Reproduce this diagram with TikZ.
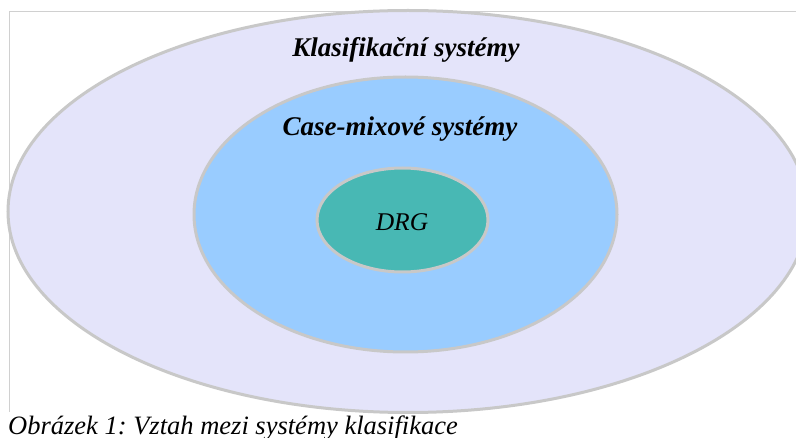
\documentclass[tikz,border=0pt]{standalone}
\usepackage{fontspec}
\setmainfont{Liberation Serif}
\usetikzlibrary{shapes.geometric}
\definecolor{outerfill}{RGB}{228,228,250}
\definecolor{midfill}{RGB}{153,204,255}
\definecolor{innerfill}{RGB}{72,184,180}
\definecolor{ringgray}{RGB}{200,200,200}
\definecolor{framegray}{RGB}{208,208,208}
\frenchspacing
\begin{document}
\begin{tikzpicture}[x=1pt,y=-1pt,
  ring/.style={ellipse, draw=ringgray, line width=3pt, inner sep=0pt, outer sep=0pt},
  biglbl/.style={anchor=base, inner sep=0pt, font=\fontsize{27}{31}\selectfont\bfseries\itshape},
  drglbl/.style={anchor=base, inner sep=0pt, font=\fontsize{25.5}{30}\selectfont\itshape},
  caption/.style={anchor=base west, inner sep=0pt, font=\fontsize{26.5}{30}\selectfont\itshape}]
\useasboundingbox (0,0) rectangle (796,438);
\clip (0,0) rectangle (796,438);
\fill[white] (0,0) rectangle (796,438);
\coordinate (fbl) at (9,412);
\coordinate (ftl) at (9,12);
\coordinate (ftr) at (796,12);
\draw[framegray, line width=1pt] (fbl) -- (ftl) -- (ftr);
\node[ring, fill=outerfill, minimum width=800pt, minimum height=402pt] (outer) at (408,211.5) {};
\node[ring, fill=midfill, minimum width=423pt, minimum height=275pt] (middle) at (405.5,214.5) {};
\node[ring, fill=innerfill, minimum width=171pt, minimum height=104pt] (inner) at (402.5,220) {};
\node[biglbl] (klas) at (406,57) {Klasifikační systémy};
\node[biglbl] (casemix) at (400,135.5) {Case-mixové systémy};
\node[drglbl] (drg) at (402,230.5) {DRG};
\node[caption] (cap) at (8,435) {Obrázek 1: Vztah mezi systémy klasifikace};
\end{tikzpicture}
\end{document}
